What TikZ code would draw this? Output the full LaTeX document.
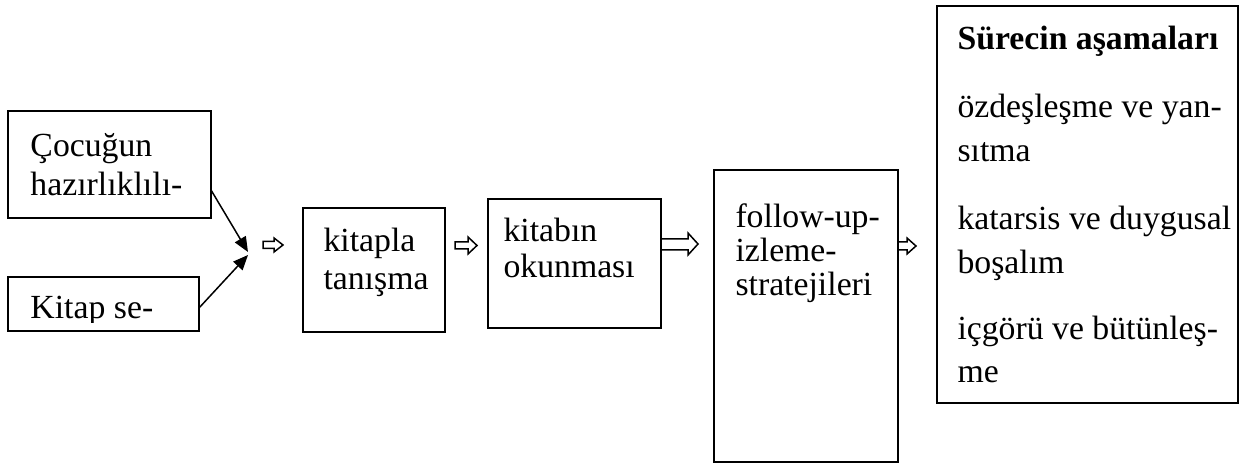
\documentclass[tikz,border=0pt]{standalone}
\usepackage{fontspec}
\setmainfont{Liberation Serif}
\usetikzlibrary{arrows.meta}
\begin{document}
\begin{tikzpicture}[x=0.4pt,y=-0.4pt,
  box/.style={draw, line width=0.75pt, inner sep=0pt, outer sep=0pt, anchor=north west},
  txt/.style={anchor=base west, inner sep=0pt, font=\fontsize{13.5}{16}\selectfont},
  conn/.style={line width=0.6pt, -{Triangle[length=6pt,width=5pt]}},
  hollow/.style={draw, line width=0.6pt, line join=miter}]
\useasboundingbox (0,0) rectangle (1242,464);
% boxes
\node[box, minimum width=81.2pt, minimum height=42.8pt] (A) at (8,111) {};
\node[box, minimum width=76.4pt, minimum height=21.6pt] (B) at (8,277) {};
\node[box, minimum width=56.8pt, minimum height=49.6pt] (C) at (303,208) {};
\node[box, minimum width=69.2pt, minimum height=51.6pt] (D) at (488,199) {};
\node[box, minimum width=73.6pt, minimum height=116.8pt] (E) at (714,170) {};
\node[box, minimum width=120.4pt, minimum height=158.8pt] (F) at (937,6) {};
% texts
\node[txt] (a1) at (30,157) {Çocuğun};
\node[txt] (a2) at (30,196) {hazırlıklılı-};
\begin{scope}
  \clip (8,277) rectangle (199,323);
  \node[txt] (b1) at (30,319) {Kitap se-};
\end{scope}
\node[txt] (c1) at (323,252) {kitapla};
\node[txt] (c2) at (323,290) {tanışma};
\node[txt] (d1) at (503,242) {kitabın};
\node[txt] (d2) at (503,278) {okunması};
\node[txt] (e1) at (735,228) {follow-up-};
\node[txt] (e2) at (735,262) {izleme-};
\node[txt] (e3) at (735,296) {stratejileri};
\node[txt, font=\fontsize{13.5}{16}\selectfont\bfseries] (f0) at (957,50) {Sürecin aşamaları};
\node[txt] (f1) at (957,118) {özdeşleşme ve yan-};
\node[txt] (f2) at (957,162) {sıtma};
\node[txt] (f3) at (957,230) {katarsis ve duygusal};
\node[txt] (f4) at (957,274) {boşalım};
\node[txt] (f5) at (957,340) {içgörü ve bütünleş-};
\node[txt] (f6) at (957,383) {me};
% converging arrows
\coordinate (j1) at (248,252);
\coordinate (j2) at (248,255);
\draw[conn] ([yshift=11.2pt]A.south east) -- (j1);
\draw[conn] ([yshift=9.2pt]B.south east) -- (j2);
% hollow arrows
\draw[hollow] (263,241.5) -- (274,241.5) -- (274,238) -- (283,245) -- (274,252) -- (274,248.5) -- (263,248.5) -- cycle;
\draw[hollow] (455,242) -- (468,242) -- (468,237) -- (477,245.5) -- (468,254) -- (468,249) -- (455,249) -- cycle;
\draw[hollow] (661,239) -- (688,239) -- (688,233) -- (698,244) -- (688,255) -- (688,250) -- (661,250);
\draw[hollow] (898,242) -- (907,242) -- (907,238) -- (916,246) -- (907,254) -- (907,250) -- (898,250);
\end{tikzpicture}
\end{document}
